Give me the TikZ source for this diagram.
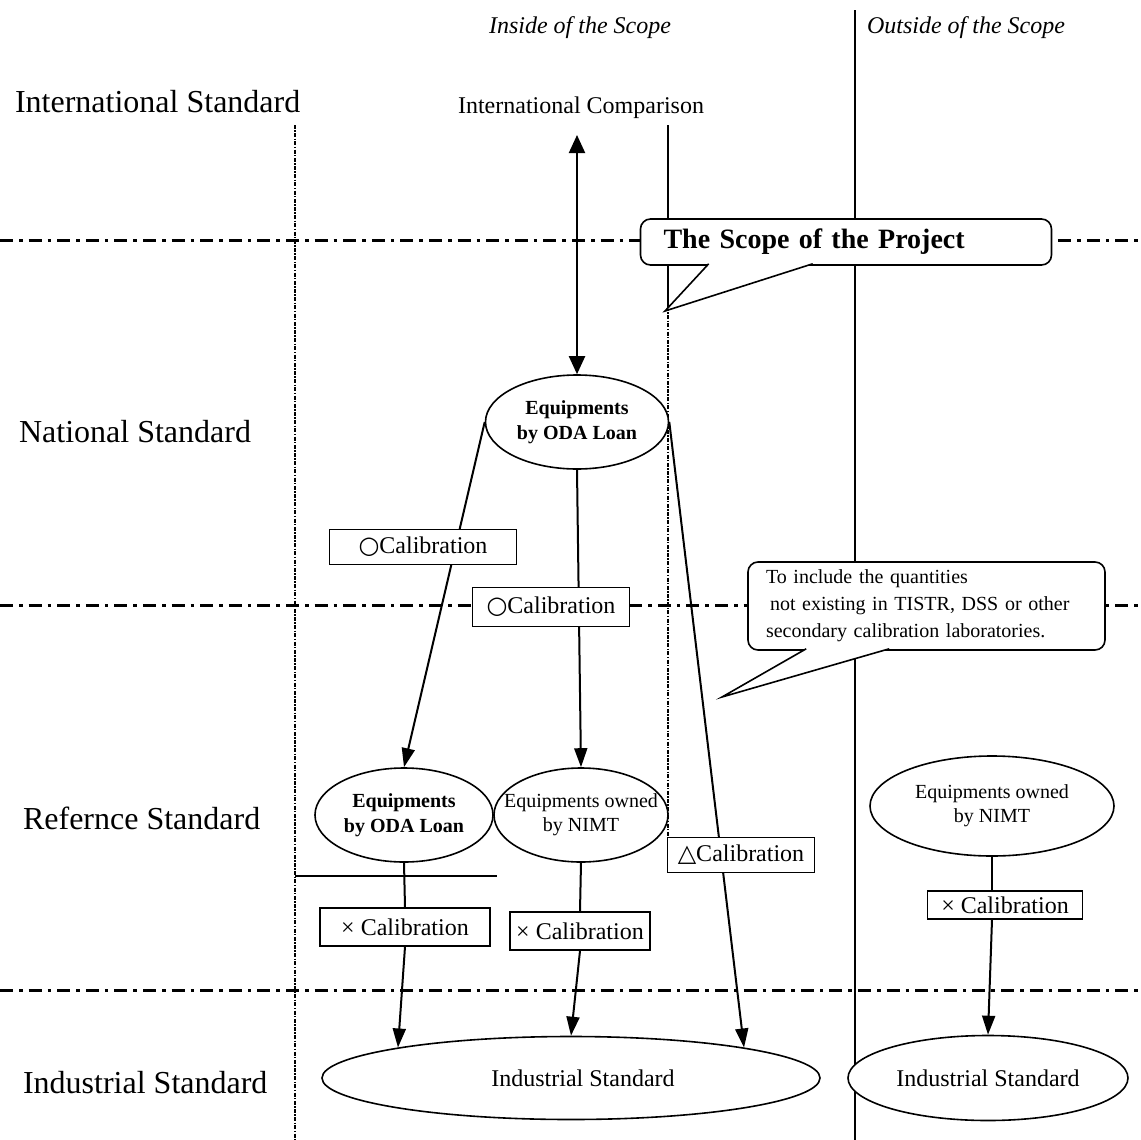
\documentclass[tikz,border=0pt]{standalone}
\usepackage{fontspec}
\setmainfont{Liberation Serif}
\newfontfamily\symfont{DejaVu Sans}
\usetikzlibrary{arrows.meta}
\usetikzlibrary{shapes.geometric,positioning}

\begin{document}
\begin{tikzpicture}[x=0.5pt,y=-0.5pt]
  \tikzset{equip/.style = {shape=ellipse,draw,line width=0.8pt,fill=white,inner sep=0pt,align=center,font=\fontsize{10}{12}\selectfont}}
  \tikzset{bequip/.style = {equip,font=\fontsize{10}{12.5}\selectfont\bfseries}}
  \tikzset{calbox/.style = {shape=rectangle,draw,line width=0.8pt,fill=white,inner sep=0pt,font=\fontsize{12}{14}\selectfont}}
  \tikzset{stdlabel/.style = {anchor=west,font=\fontsize{16}{19}\selectfont}}
  \tikzset{scopehead/.style = {font=\fontsize{12}{14}\selectfont\itshape}}
  \tikzset{bound/.style = {line width=1.5pt,dash pattern=on 6.5pt off 3pt on 1.8pt off 3pt}}
  \tikzset{colline/.style = {line width=0.6pt,dash pattern=on 2pt off 0.7pt on 0.7pt off 0.7pt}}
  \tikzset{conn/.style = {line width=1pt}}
  \tikzset{arrowedge/.style = {conn,-tipA}}
  \tikzset{balloon/.style = {draw,line width=0.8pt,fill=white,rounded corners=5pt,align=left}}
  \tikzset{%
  tipA/.tip={Triangle[length=9.5pt,width=6.5pt]},
  tipB/.tip={Triangle[length=9pt,width=8pt]},
}

\useasboundingbox (0,0) rectangle (1141,1140);

% level boundaries and columns
\draw[bound] (0,240) -- (1141,240);
\draw[bound] (0,605) -- (1141,605);
\draw[bound] (0,990) -- (1141,990);
\draw[colline] (295,125) -- (295,1140);
\draw[line width=0.6pt] (668,125) -- (668,307);
\draw[colline] (668,307) -- (668,838);
\draw[line width=0.8pt] (855,10) -- (855,1140);
\draw[line width=0.6pt] (295,876) -- (497,876);

% headings
\node[scopehead] (inside) at (580,28) {Inside of the Scope};
\node[scopehead,anchor=west] (outside) at (860,28) {Outside of the Scope};

\node[stdlabel] (intstd) at (8,102) {International Standard};
\node[stdlabel] (natstd) at (12,432) {National Standard};
\node[stdlabel] (refstd) at (16,818) {Refernce Standard};
\node[stdlabel] (indstd) at (16,1083) {Industrial Standard};

\node[font=\fontsize{12}{14}\selectfont] (intcmp) at (581,108) {International Comparison};
\coordinate (cmptip) at (577,135);

% equipments
\node[bequip,minimum width=91.5pt,minimum height=47pt] (oda) at (577,422) {Equipments\\by ODA Loan};
\node[bequip,minimum width=89pt,minimum height=47pt] (odaL) at (404,815) {Equipments\\by ODA Loan};
\node[equip,inner xsep=-10pt,minimum width=87pt,minimum height=47pt] (nimtA) at (581,815) {Equipments owned\\by NIMT};
\node[equip,minimum width=122pt,minimum height=50pt] (nimtB) at (992,806) {Equipments owned\\by NIMT};
\node[equip,font=\fontsize{12}{14}\selectfont,minimum width=249pt,minimum height=41.5pt] (indA) at (571,1078) {\hspace*{12pt}Industrial Standard};
\node[equip,font=\fontsize{12}{14}\selectfont,minimum width=140pt,minimum height=42.5pt] (indB) at (988,1078) {Industrial Standard};

\draw[conn,tipB-tipB] (cmptip) -- (oda.north);

\foreach \from/\to in {oda.west/odaL.north, oda.south/nimtA.north, oda.east/indA.10}
  \path[arrowedge] (\from) edge (\to);

% calibration boxes
\node[calbox,minimum width=93.5pt,minimum height=17.5pt] (calA) at (423,547) {{\symfont ○}Calibration};
\node[calbox,minimum width=78.5pt,minimum height=19.5pt] (calB) at (551,607) {{\symfont ○}Calibration};
\node[calbox,minimum width=73.5pt,minimum height=17.5pt] (calC) at (741,855) {{\symfont △}Calibration};
\node[calbox,minimum width=85pt,minimum height=19pt] (xcalA) at (405,927) {× Calibration};
\node[calbox,minimum width=70pt,minimum height=19pt] (xcalB) at (580,931) {× Calibration};
\node[calbox,minimum width=77.5pt,minimum height=14pt] (xcalC) at (1005,905) {× Calibration};

\draw[conn] (odaL.south) -- (xcalA.north);
\draw[conn] (nimtA.south) -- (xcalB.north);
\draw[conn] (nimtB.south) -- (nimtB.south |- xcalC.north);

\foreach \from/\to in {xcalA.south/indA.170, xcalB.south/indA.north}
  \path[arrowedge] (\from) edge (\to);
\draw[arrowedge] (nimtB.south |- xcalC.south) -- (indB.north);

% callouts
\node[balloon,text width=182.5pt,inner xsep=11.5pt,minimum height=23pt,font=\fontsize{14}{16}\selectfont\bfseries] (scope) at (846,242) {The Scope of the Project};
\coordinate (scopetip) at (665,311);
\path (scope.south west) ++(69,-2) coordinate (sa) ++(104,0) coordinate (sb);
\fill[white] (sa) -- (scopetip) -- (sb) -- cycle;
\draw[line width=0.8pt] (sa) -- (scopetip) -- (sb);

\node[balloon,text width=160.5pt,inner xsep=9pt,minimum height=44pt,font=\fontsize{10}{13.5}\selectfont] (note) at (926.5,606) {To include the quantities\\\hspace*{2pt}not existing in TISTR, DSS or other\\secondary calibration laboratories.};
\coordinate (notetip) at (722,697);
\path (note.south west) ++(59,-2) coordinate (na) ++(83,0) coordinate (nb);
\fill[white] (na) -- (notetip) -- (nb) -- cycle;
\draw[line width=0.8pt] (na) -- (notetip) -- (nb);

\end{tikzpicture}
\end{document}
